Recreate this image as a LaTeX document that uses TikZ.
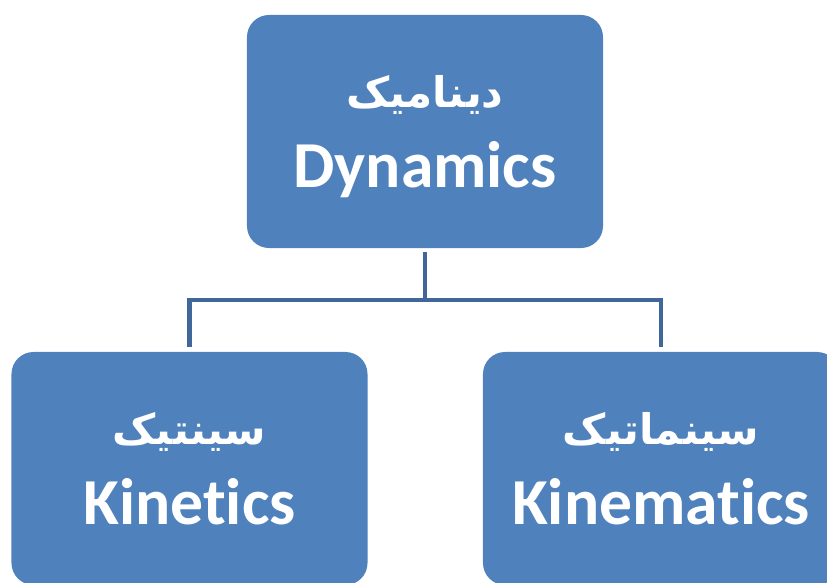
\documentclass[tikz,border=0pt]{standalone}
\usepackage{fontspec}
\setmainfont{Carlito}[Ligatures=NoCommon]
\newfontfamily\farsi[Script=Arabic]{DejaVu Sans}
\TeXXeTstate=1
\usetikzlibrary{positioning}
\definecolor{boxblue}{RGB}{79,129,189}
\definecolor{linkblue}{RGB}{65,103,154}

\begin{document}
\begin{tikzpicture}[x=0.03cm, y=-0.03cm,
    topic/.style={rectangle, rounded corners=0.66cm, fill=boxblue, text=white,
        minimum width=10.68cm, minimum height=6.99cm, inner sep=0pt, text depth=0pt,
        align=center, font=\bfseries\fontsize{56}{62}\selectfont},
    link/.style={draw=linkblue, line width=4.1pt}]
        \useasboundingbox (0,0) rectangle (827,583);
        \clip (0,0) rectangle (827,583);

        \node[topic] (dyn) at (425,131.5) {{\farsi\fontsize{36}{40}\selectfont\beginR دینامیک\endR}\\[7pt]Dynamics};
        \node[topic] (kinet) at (189.5,468.5) {{\farsi\fontsize{36}{40}\selectfont\beginR سینتیک\endR}\\[7pt]Kinetics};
        \node[topic] (kinem) at (661,468.5) {{\farsi\fontsize{36}{40}\selectfont\beginR سینماتیک\endR}\\[7pt]Kinematics};

        \coordinate (mid) at (425,300);
        \draw[link, shorten <=3.4pt] (dyn.south) -- (mid);
        \draw[link, shorten <=4.3pt, shorten >=4.3pt] (kinet.north) |- (mid) -| (kinem.north);
    \end{tikzpicture}
\end{document}
